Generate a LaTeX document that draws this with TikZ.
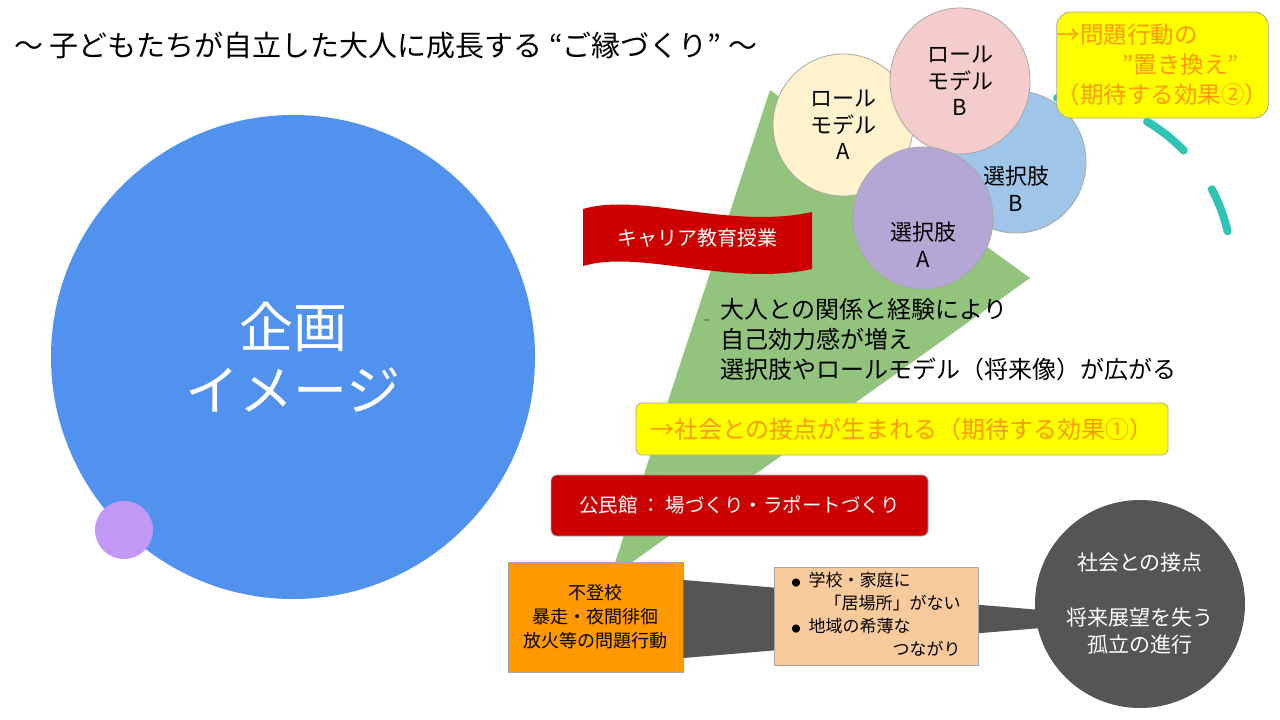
\documentclass[tikz,border=0pt]{standalone}
\usepackage{fontspec}
\setmainfont{Noto Sans CJK JP}
\usetikzlibrary{shapes.geometric,calc}
\definecolor{bigblue}{RGB}{81,146,238}
\definecolor{smallpurple}{RGB}{195,152,245}
\definecolor{leafgreen}{RGB}{147,196,125}
\definecolor{flagred}{RGB}{204,0,0}
\definecolor{brightyellow}{RGB}{255,255,0}
\definecolor{orangetext}{RGB}{255,153,0}
\definecolor{orangefill}{RGB}{255,153,0}
\definecolor{peach}{RGB}{249,203,156}
\definecolor{darkgrey}{RGB}{85,85,85}
\definecolor{tealline}{RGB}{46,196,182}
\definecolor{edgegrey}{RGB}{166,166,166}
\definecolor{fillrA}{RGB}{255,242,204}
\definecolor{fillrB}{RGB}{244,204,204}
\definecolor{fillsB}{RGB}{159,197,232}
\definecolor{fillsA}{RGB}{180,167,214}
\begin{document}
\begin{tikzpicture}[x=1pt,y=-1pt,
  bubble/.style={ellipse,draw=edgegrey,line width=0.8pt,minimum width=140,minimum height=142,inner sep=0,align=center,font=\fontsize{22}{26.5}\selectfont},
  bubbletext/.style={inner sep=0,align=center,font=\fontsize{22}{26.5}\selectfont},
  greybox/.style={draw=edgegrey,line width=0.8pt,inner sep=0,align=center},
  dashseg/.style={draw=tealline,line width=8pt,line cap=round}]
\useasboundingbox (0,0) rectangle (1280,720);
\fill[white] (0,0) rectangle (1280,720);

% title
\node[anchor=west,inner sep=0,font=\fontsize{29}{31}\selectfont] (title) at (14,45) {～ 子どもたちが自立した大人に成長する “ご縁づくり” ～};

% green wedge
\fill[leafgreen] (770,90) -- (1030,278) -- (610,578) -- cycle;

% big circle
\node[circle,fill=bigblue,minimum size=484,inner sep=0,text=white,align=center,font=\fontsize{54}{63}\selectfont] (plan) at (293,357) {企画\\イメージ};
\node[circle,fill=smallpurple,minimum size=58,inner sep=0] (dot) at (124,530) {};

% bottom nodes
\node[greybox,fill=orangefill,minimum width=175,minimum height=110,font=\fontsize{18}{24}\selectfont] (problem) at (595.5,617) {不登校\\暴走・夜間徘徊\\放火等の問題行動};
\node[ellipse,fill=darkgrey,minimum width=210,minimum height=208,inner sep=0,text=white,align=center,font=\fontsize{21}{27}\selectfont] (isolation) at (1140,604) {社会との接点\\[28pt]将来展望を失う\\孤立の進行};
\fill[darkgrey] ([yshift=37pt]problem.east) -- ([xshift=6pt,yshift=-6pt]isolation.west) -- ([xshift=6pt,yshift=-24pt]isolation.west) -- ([yshift=-41pt]problem.east) -- cycle;
\node[greybox,fill=peach,minimum width=204,minimum height=98,font=\fontsize{17}{23}\selectfont] (causes) at (876,616) {%
\begin{tabular}{@{}l@{\hspace{8pt}}r@{}}
{\fontsize{9}{9}\selectfont ●} & \makebox[152pt][l]{学校・家庭に}\\
 & 「居場所」がない\\
{\fontsize{9}{9}\selectfont ●} & \makebox[152pt][l]{地域の希薄な}\\
 & つながり
\end{tabular}};

% community hall
\node[greybox,rounded corners=6pt,fill=flagred,text=white,minimum width=377,minimum height=61,font=\fontsize{19.5}{22}\selectfont] (hall) at (739.5,505.5) {公民館 ： 場づくり・ラポートづくり};

% effect 1
\node[greybox,rounded corners=6pt,fill=brightyellow,text=orangetext,minimum width=532,minimum height=52,font=\fontsize{24}{26}\selectfont] (effect1) at (902,429) {→社会との接点が生まれる（期待する効果①）};

% text block
\node[anchor=west,inner sep=0,align=left,font=\fontsize{24}{30}\selectfont] (growth) at (720,340) {大人との関係と経験により\\自己効力感が増え\\選択肢やロールモデル（将来像）が広がる};
\node[inner sep=0,font=\fontsize{9}{9}\selectfont] (mark) at (707,320) {\_};

% flag
\fill[flagred] (583,209) .. controls (640,192) and (730,230) .. (812,212) -- (812,269) .. controls (730,287) and (640,249) .. (583,266) -- cycle;
\node[inner sep=0,text=white,font=\fontsize{20}{22}\selectfont] (career) at (697,238) {キャリア教育授業};

% bubbles
\node[bubble,fill=fillrA] (roleA) at (843,125) {ロール\\モデル\\A};
\node[bubble,fill=fillsB] (choiceB) at (1016,162) {};
\node[bubbletext] (choiceBtext) at ([yshift=-27pt]choiceB.center) {選択肢\\B};
\node[bubble,fill=fillrB,minimum height=146] (roleB) at (960,81) {ロール\\モデル\\B};
\node[bubble,fill=fillsA] (choiceA) at (923,218) {};
\node[bubbletext] (choiceAtext) at ([yshift=-27pt]choiceA.center) {選択肢\\A};

% teal dashed arc
\coordinate (arcc) at (1060,270);
\draw[dashseg] (arcc) ++(-91:172) arc[start angle=-91,end angle=-89,radius=172];
\draw[dashseg] (arcc) ++(-59.6:172) arc[start angle=-59.6,end angle=-44,radius=172];
\draw[dashseg] (arcc) ++(-28:172) arc[start angle=-28,end angle=-13,radius=172];

% effect 2
\node[greybox,rounded corners=14pt,fill=brightyellow,text=orangetext,minimum width=211,minimum height=106,align=left,font=\fontsize{23.5}{30}\selectfont] (effect2) at (1162.5,65) {→問題行動の\\\hspace*{2.8em}”置き換え”\\（期待する効果②）};
\end{tikzpicture}
\end{document}
